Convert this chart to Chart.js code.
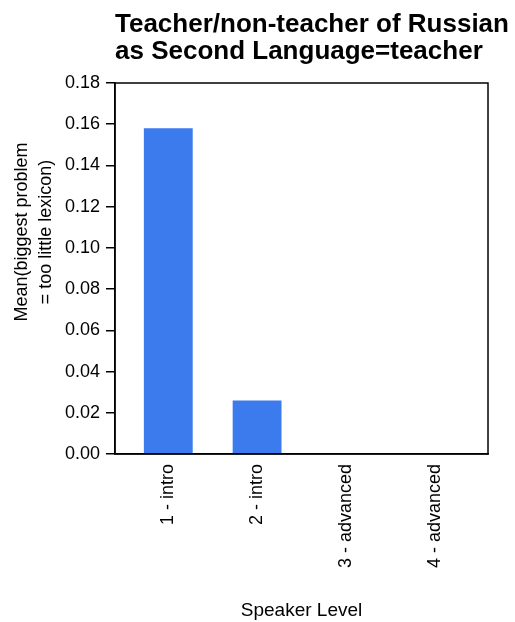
<!DOCTYPE html>
<html>
<head>
<meta charset="utf-8">
<script src="https://cdn.jsdelivr.net/npm/chart.js@4"></script>
<style>
  html, body { margin: 0; padding: 0; background: #fff; }
  #chart { display: block; }
</style>
</head>
<body>
<canvas id="chart" width="515" height="622"></canvas>
<script>
(function () {
  'use strict';

  // data
  var speakerLevels = ['1 - intro', '2 - intro', '3 - advanced', '4 - advanced'];
  var meanValues = [0.158, 0.026, 0, 0];
  var yTicks = [0, 0.02, 0.04, 0.06, 0.08, 0.10, 0.12, 0.14, 0.16, 0.18];
  var titleLines = ['Teacher/non-teacher of Russian', 'as Second Language=teacher'];
  var yTitleLines = ['Mean(biggest problem', '= too little lexicon)'];
  var xTitle = 'Speaker Level';

  var FONT = '"Liberation Sans", Arial, Helvetica, sans-serif';
  var barColor = '#3c7bee';

  // titles drawn relative to the plot frame
  var framePlugin = {
    id: 'frame',
    afterDatasetsDraw: function (chart) {
      var a = chart.chartArea;
      var ctx = chart.ctx;
      ctx.save();
      ctx.strokeStyle = '#000';
      ctx.lineWidth = 1.5;
      ctx.strokeRect(a.left, a.top, a.right - a.left, a.bottom - a.top);
      ctx.restore();
    },
    afterDraw: function (chart) {
      var a = chart.chartArea;
      var ctx = chart.ctx;
      ctx.save();
      ctx.fillStyle = '#000';
      ctx.font = 'bold 26px ' + FONT;
      ctx.textAlign = 'left';
      ctx.textBaseline = 'alphabetic';
      titleLines.forEach(function (t, i) {
        ctx.fillText(t, a.left, 32 + i * 27);
      });

      ctx.font = '18px ' + FONT;
      ctx.textAlign = 'center';
      ctx.textBaseline = 'middle';
      ctx.translate(0, 232);
      ctx.rotate(-Math.PI / 2);
      yTitleLines.forEach(function (t, i) {
        ctx.fillText(t, 0, 22 + i * 24);
      });
      ctx.restore();
    }
  };

  new Chart(document.getElementById('chart'), {
    type: 'bar',
    data: {
      datasets: [{
        data: meanValues.map(function (v, i) { return { x: i, y: v }; }),
        backgroundColor: barColor,
        borderWidth: 0,
        barPercentage: 0.55,
        categoryPercentage: 1
      }]
    },
    plugins: [framePlugin],
    options: {
      responsive: false,
      animation: false,
      layout: { padding: { top: 83, right: 27, left: 0, bottom: 0 } },
      plugins: {
        legend: { display: false },
        tooltip: { enabled: false },
        title: { display: false }
      },
      scales: {
        x: {
          type: 'linear',
          min: -0.6,
          max: 3.6,
          offset: false,
          afterBuildTicks: function (scale) {
            scale.ticks = speakerLevels.map(function (l, i) { return { value: i }; });
          },
          afterFit: function (scale) { scale.height = 168; },
          grid: { display: false, offset: false },
          border: { display: true, color: '#000', width: 1.5 },
          ticks: {
            autoSkip: false,
            minRotation: 90,
            maxRotation: 90,
            padding: 2,
            color: '#000',
            font: { family: FONT, size: 18 },
            callback: function (v) { return speakerLevels[v]; }
          },
          title: {
            display: true,
            text: xTitle,
            color: '#000',
            font: { family: FONT, size: 19, lineHeight: 1.2 },
            padding: { top: 0, bottom: 0 }
          }
        },
        y: {
          min: 0,
          max: 0.18,
          afterBuildTicks: function (scale) {
            scale.ticks = yTicks.map(function (v) { return { value: v }; });
          },
          afterFit: function (scale) { scale.width = 115; },
          grid: {
            display: true,
            drawOnChartArea: false,
            drawTicks: true,
            tickLength: 9,
            color: '#000',
            lineWidth: 1.5
          },
          border: { display: true, color: '#000', width: 1.5 },
          ticks: {
            padding: 6,
            color: '#000',
            font: { family: FONT, size: 18 },
            callback: function (v) { return Number(v).toFixed(2); }
          }
        }
      }
    }
  });
})();
</script>
</body>
</html>
